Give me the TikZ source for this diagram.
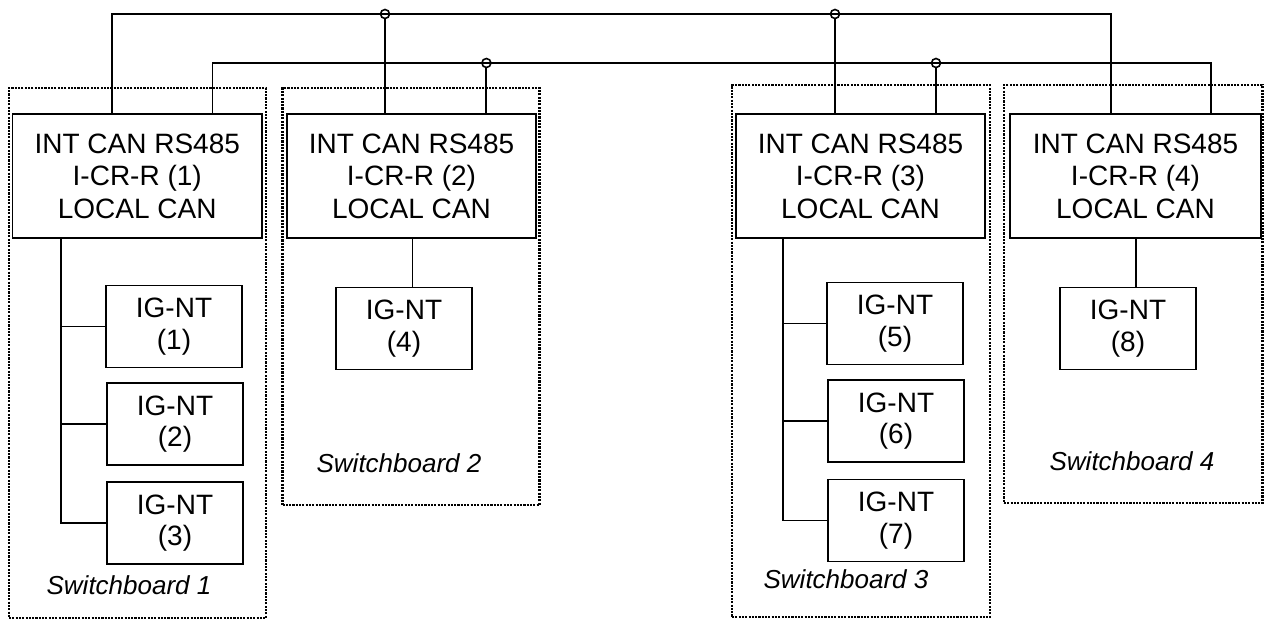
\documentclass[tikz,border=0pt]{standalone}
\usepackage{fontspec}
\setmainfont{Liberation Sans}
\begin{document}
\begin{tikzpicture}[x=1pt,y=-1pt,
  line width=1.9pt,
  crbox/.style={draw, line width=1.9pt, minimum width=249pt, minimum height=124pt, align=center, inner sep=0pt, font=\fontsize{28}{32.5}\selectfont},
  igbox/.style={draw, line width=1.9pt, minimum width=136pt, minimum height=82pt, align=center, inner sep=0pt, font=\fontsize{28}{31.5}\selectfont},
  frame/.style={draw, line width=2.6pt, dash pattern=on 2.1pt off 1.2pt, inner sep=0pt},
  sblabel/.style={font=\fontsize{26}{30}\selectfont\itshape, inner sep=0pt},
  tap/.style={circle, draw, line width=1.6pt, minimum size=9pt, inner sep=0pt}]
\useasboundingbox (0,0) rectangle (1264,619);

% switchboard frames
\node[frame, minimum width=257pt, minimum height=530pt] (f1) at (137.5,353) {};
\node[frame, minimum width=257pt, minimum height=417pt] (f2) at (411,296.5) {};
\node[frame, minimum width=258pt, minimum height=532pt] (f3) at (861,351) {};
\node[frame, minimum width=258.5pt, minimum height=418pt] (f4) at (1133.25,294) {};

% I-CR-R boxes
\node[crbox, minimum width=249.5pt] (b1) at (137.25,176) {INT CAN RS485\\I-CR-R (1)\\LOCAL CAN};
\node[crbox] (b2) at (411.5,176) {INT CAN RS485\\I-CR-R (2)\\LOCAL CAN};
\node[crbox] (b3) at (860.5,176) {INT CAN RS485\\I-CR-R (3)\\LOCAL CAN};
\node[crbox, minimum width=251pt] (b4) at (1135.5,176) {INT CAN RS485\\I-CR-R (4)\\LOCAL CAN};

% IG-NT boxes
\node[igbox] (g1) at (174,326.5) {IG-NT\\(1)};
\node[igbox] (g2) at (175,424) {IG-NT\\(2)};
\node[igbox] (g3) at (175,523) {IG-NT\\(3)};
\node[igbox] (g4) at (404,328.5) {IG-NT\\(4)};
\node[igbox] (g5) at (895,323.5) {IG-NT\\(5)};
\node[igbox] (g6) at (896,421) {IG-NT\\(6)};
\node[igbox] (g7) at (896,520.5) {IG-NT\\(7)};
\node[igbox] (g8) at (1128,328.5) {IG-NT\\(8)};

% labels
\node[sblabel] (sb1) at (129,585) {Switchboard 1};
\node[sblabel] (sb2) at (399,463) {Switchboard 2};
\node[sblabel] (sb3) at (846,579) {Switchboard 3};
\node[sblabel] (sb4) at (1132,461) {Switchboard 4};

% INT CAN buses
\coordinate (t1) at (112,14);
\coordinate (t4) at (1111,14);
\coordinate (s1) at (212.5,63);
\coordinate (s4) at (1211,63);
\draw (b1.north -| t1) -- (t1) -- (t4) -- (b4.north -| t4);
\draw (b1.north -| s1) -- (s1) -- (s4) -- (b4.north -| s4);
\node[tap] (ta2) at (385,14) {};
\node[tap] (sa2) at (486.4,63) {};
\node[tap] (ta3) at (835,14) {};
\node[tap] (sa3) at (936,63) {};
\draw (ta2.south) -- (b2.north -| ta2);
\draw (sa2.south) -- (b2.north -| sa2);
\draw (ta3.south) -- (b3.north -| ta3);
\draw (sa3.south) -- (b3.north -| sa3);

% LOCAL CAN
\coordinate (l1) at (61.4,0);
\coordinate (l2) at (412.5,0);
\coordinate (l3) at (783,0);
\coordinate (l4) at (1136,0);
\draw (b1.south -| l1) |- (g3.west);
\draw (l1 |- g1.west) -- (g1.west);
\draw (l1 |- g2.west) -- (g2.west);
\draw (b2.south -| l2) -- (g4.north -| l2);
\draw (b3.south -| l3) |- (g7.west);
\draw (l3 |- g5.west) -- (g5.west);
\draw (l3 |- g6.west) -- (g6.west);
\draw (b4.south -| l4) -- (g8.north -| l4);
\end{tikzpicture}
\end{document}
